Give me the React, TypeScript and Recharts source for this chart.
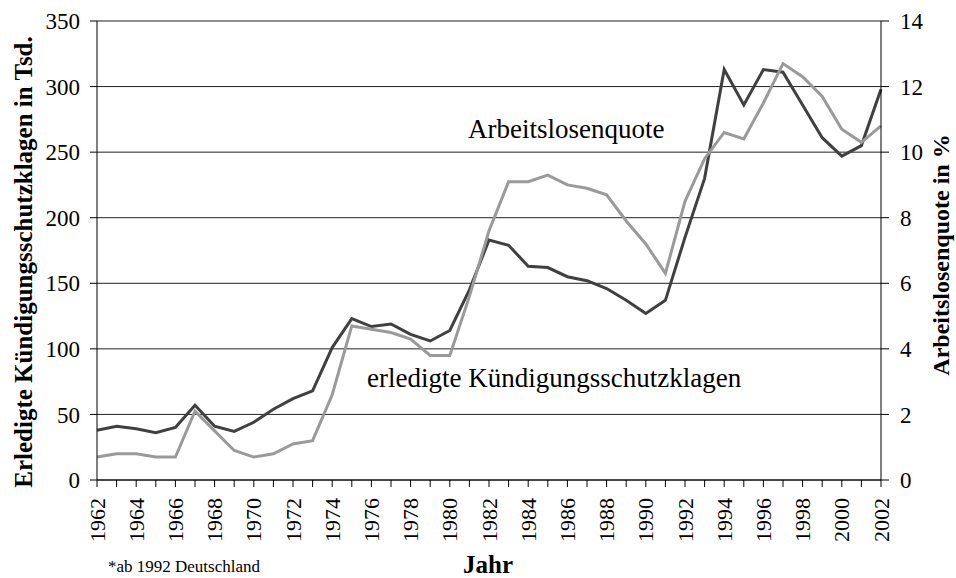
import { LineChart, Line, XAxis, YAxis, CartesianGrid } from 'recharts';

const years = [
  1962, 1963, 1964, 1965, 1966, 1967, 1968, 1969, 1970, 1971,
  1972, 1973, 1974, 1975, 1976, 1977, 1978, 1979, 1980, 1981,
  1982, 1983, 1984, 1985, 1986, 1987, 1988, 1989, 1990, 1991,
  1992, 1993, 1994, 1995, 1996, 1997, 1998, 1999, 2000, 2001, 2002,
];

// erledigte Kündigungsschutzklagen in Tsd.
const klagen = [
  38, 41, 39, 36, 40, 57, 41, 37, 44, 54,
  62, 68, 101, 123, 117, 119, 111, 106, 114, 145,
  183, 179, 163, 162, 155, 152, 146, 137, 127, 137,
  185, 230, 313, 286, 313, 311, 286, 261, 247, 255, 298,
];

// Arbeitslosenquote in %
const quote = [
  0.7, 0.8, 0.8, 0.7, 0.7, 2.1, 1.5, 0.9, 0.7, 0.8,
  1.1, 1.2, 2.6, 4.7, 4.6, 4.5, 4.3, 3.8, 3.8, 5.6,
  7.6, 9.1, 9.1, 9.3, 9.0, 8.9, 8.7, 7.9, 7.2, 6.3,
  8.5, 9.8, 10.6, 10.4, 11.5, 12.7, 12.3, 11.7, 10.7, 10.3, 10.8,
];

const leftTicks = [0, 50, 100, 150, 200, 250, 300, 350];
const rightTicks = [0, 2, 4, 6, 8, 10, 12, 14];

const data = years.map((year, i) => ({ year, klagen: klagen[i], quote: quote[i] }));

const font = 'Liberation Serif';
const tickStyle = { fontFamily: font, fontSize: 23, fill: '#000' };

function YearTick({ x, y, payload }: any) {
  if (payload.value % 2 !== 0) return null;
  return (
    <text
      x={x}
      y={y}
      transform={`rotate(-90, ${x}, ${y})`}
      textAnchor="end"
      dy="0.35em"
      fontFamily={font}
      fontSize={22}
      fill="#000"
    >
      {payload.value}
    </text>
  );
}

const abs = { position: 'absolute' as const, whiteSpace: 'nowrap' as const, lineHeight: 1, fontFamily: font, color: '#000' };

export default function App() {
  return (
    <div style={{ position: 'relative', width: 956, height: 578, fontFamily: font, background: '#fff' }}>
      <style>{'body{margin:0}'}</style>
      <LineChart
        width={956}
        height={578}
        data={data}
        margin={{ top: 21, right: 25, left: 40, bottom: 28 }}
      >
        <CartesianGrid yAxisId="left" vertical={false} stroke="#222" strokeWidth={1} />
        <XAxis
          dataKey="year"
          type="number"
          domain={[1962, 2002]}
          ticks={years}
          interval={0}
          height={70}
          tick={<YearTick />}
          tickSize={7}
          tickMargin={11}
          stroke="#000"
        />
        <YAxis
          yAxisId="left"
          domain={[0, 350]}
          ticks={leftTicks}
          width={57}
          tickSize={7}
          tickMargin={10}
          tick={tickStyle}
          stroke="#000"
        />
        <YAxis
          yAxisId="right"
          orientation="right"
          domain={[0, 14]}
          ticks={rightTicks}
          width={50}
          tickSize={8}
          tickMargin={11}
          tick={tickStyle}
          stroke="#000"
        />
        <Line
          yAxisId="left"
          dataKey="klagen"
          stroke="#404040"
          strokeWidth={3}
          dot={false}
          isAnimationActive={false}
        />
        <Line
          yAxisId="right"
          dataKey="quote"
          stroke="#9a9a9a"
          strokeWidth={3}
          dot={false}
          isAnimationActive={false}
        />
      </LineChart>

      <div style={{ ...abs, left: 23, top: 262, transform: 'translate(-50%, -50%) rotate(-90deg)', fontWeight: 'bold', fontSize: 25 }}>
        Erledigte Kündigungsschutzklagen in Tsd.
      </div>
      <div style={{ ...abs, left: 941, top: 255, transform: 'translate(-50%, -50%) rotate(-90deg)', fontWeight: 'bold', fontSize: 24 }}>
        Arbeitslosenquote in %
      </div>
      <div style={{ ...abs, left: 468, top: 116, fontSize: 27 }}>
        Arbeitslosenquote
      </div>
      <div style={{ ...abs, left: 367, top: 365, fontSize: 27 }}>
        erledigte Kündigungsschutzklagen
      </div>
      <div style={{ ...abs, left: 108, top: 558, fontSize: 17 }}>
        *ab 1992 Deutschland
      </div>
      <div style={{ ...abs, left: 463, top: 552, fontWeight: 'bold', fontSize: 25 }}>
        Jahr
      </div>
    </div>
  );
}
